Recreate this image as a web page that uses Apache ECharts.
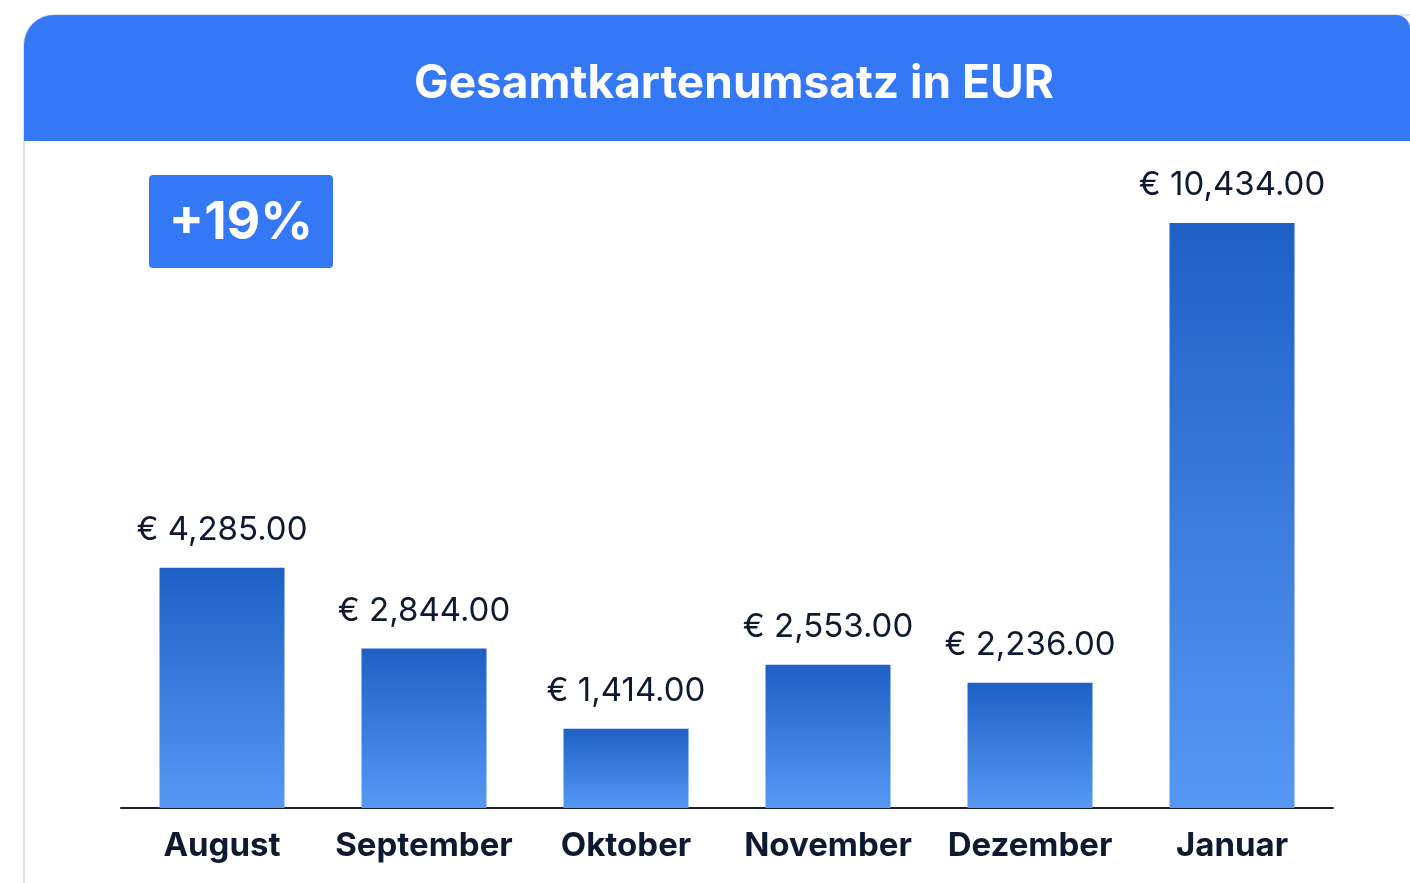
<!DOCTYPE html>
<html>
<head>
<meta charset="utf-8">
<script src="https://cdn.jsdelivr.net/npm/echarts@6/dist/echarts.min.js"></script>
<style>
  html, body { margin: 0; padding: 0; background: #fff; }
  #chart { width: 1410px; height: 883px; }
</style>
</head>
<body>
<div id="chart"></div>
<script>
const months = ['August', 'September', 'Oktober', 'November', 'Dezember', 'Januar'];
const revenue = [4285, 2844, 1414, 2553, 2236, 10434];
const growthLabel = '+19%';
const chartTitle = 'Gesamtkartenumsatz in EUR';

const blue = '#3478F6';
const ink = '#0f1a30';

const fmt = (v) => '€ ' + v.toLocaleString('en-US', {minimumFractionDigits: 2, maximumFractionDigits: 2});

let chart = echarts.init(document.getElementById('chart'));

let option = {
    backgroundColor: '#fff',
    animation: false,
    title: {
        text: chartTitle,
        left: 729, top: 79, textAlign: 'center', textVerticalAlign: 'middle',
        textStyle: {color: '#fff', fontFamily: 'Inter', fontWeight: 'bold', fontSize: 46}
    },
    graphic: [
        // card body + header
        {
            type: 'rect', z: -10,
            shape: {x: 24, y: 15, width: 1420, height: 900, r: [30, 30, 0, 0]},
            style: {fill: '#fff', stroke: '#e3e5e8', lineWidth: 2}
        },
        {
            type: 'rect', z: -9,
            shape: {x: 24, y: 15, width: 1386, height: 126, r: [30, 14, 0, 0]},
            style: {fill: blue}
        },
        // growth badge
        {
            type: 'group', left: 149, top: 175,
            children: [
                {type: 'rect', shape: {x: 0, y: 0, width: 184, height: 93, r: 4}, style: {fill: blue}},
                {
                    type: 'text', x: 92, y: 48,
                    style: {
                        text: growthLabel, fill: '#fff', fontFamily: 'Inter', fontWeight: 'bold',
                        fontSize: 52, align: 'center', verticalAlign: 'middle'
                    }
                }
            ]
        }
    ],
    grid: {left: 121, width: 1212, top: 223, bottom: 75, containLabel: false},
    xAxis: {
        type: 'category',
        data: months,
        axisLine: {lineStyle: {color: '#1a2030', width: 2}},
        axisTick: {show: false},
        axisLabel: {
            interval: 0, margin: 22, color: ink, fontFamily: 'Inter', fontWeight: 'bold', fontSize: 33
        }
    },
    yAxis: {
        type: 'value', min: 0, max: 'dataMax',
        show: false
    },
    series: [{
        type: 'bar',
        data: revenue,
        barWidth: 125,
        itemStyle: {
            color: new echarts.graphic.LinearGradient(0, 0, 0, 1, [
                {offset: 0, color: '#1f60c6'},
                {offset: 1, color: '#5698f3'}
            ])
        },
        label: {
            show: true, position: 'top', distance: 21,
            formatter: (p) => fmt(p.value),
            color: ink, fontFamily: 'Inter', fontSize: 33
        }
    }]
};

chart.setOption(option);
</script>
</body>
</html>
